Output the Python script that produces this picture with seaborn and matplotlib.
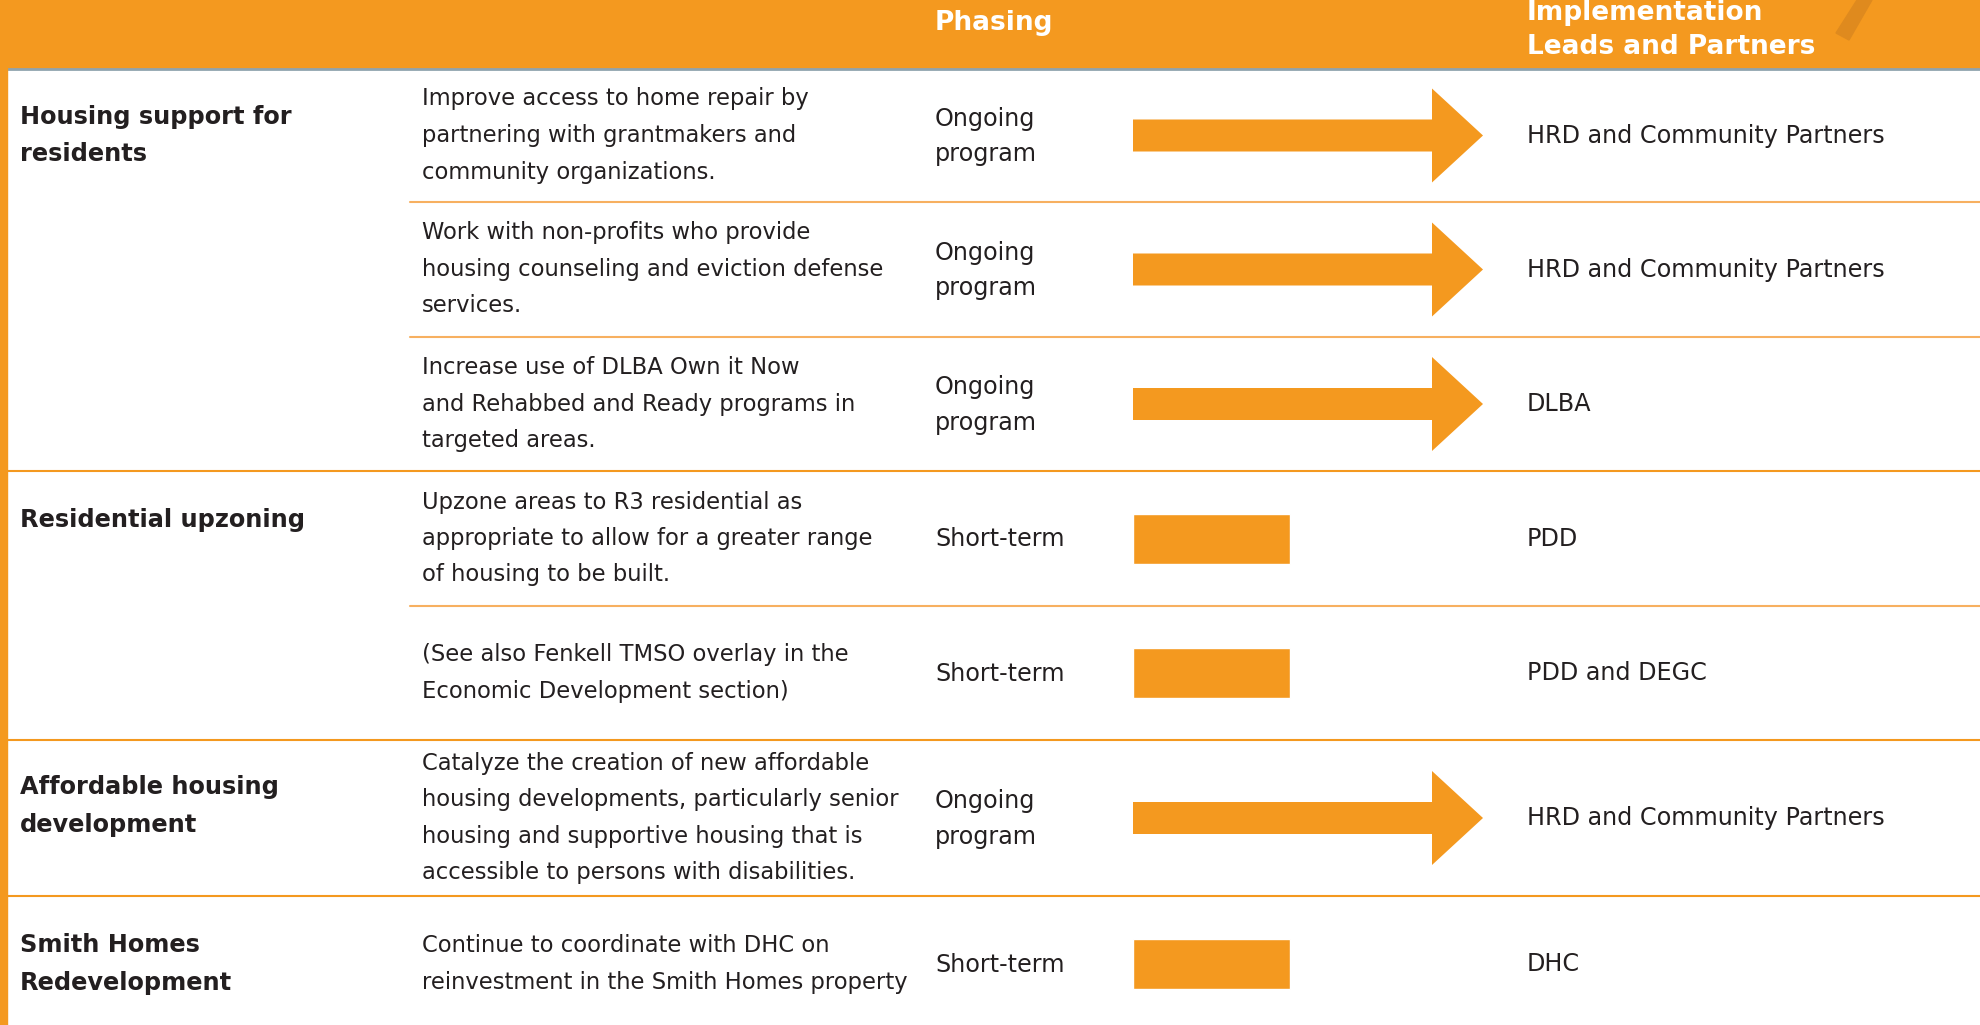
import seaborn as sns
import matplotlib.pyplot as plt
from matplotlib.patches import Polygon

sns.set_theme(style="white")
plt.rcParams['font.family'] = ['DejaVu Sans']

ORANGE = '#F4991F'
TEXT = '#231F20'

# table content
topics = ['Housing support for\nresidents', 'Residential upzoning',
          'Affordable housing\ndevelopment', 'Smith Homes\nRedevelopment']
topic_rows = [[0, 1, 2], [3, 4], [5], [6]]
actions = [
    'Improve access to home repair by\npartnering with grantmakers and\ncommunity organizations.',
    'Work with non-profits who provide\nhousing counseling and eviction defense\nservices.',
    'Increase use of DLBA Own it Now\nand Rehabbed and Ready programs in\ntargeted areas.',
    'Upzone areas to R3 residential as\nappropriate to allow for a greater range\nof housing to be built.',
    '(See also Fenkell TMSO overlay in the\nEconomic Development section)',
    'Catalyze the creation of new affordable\nhousing developments, particularly senior\nhousing and supportive housing that is\naccessible to persons with disabilities.',
    'Continue to coordinate with DHC on\nreinvestment in the Smith Homes property',
]
phasing = ['Ongoing program', 'Ongoing program', 'Ongoing program',
           'Short-term', 'Short-term', 'Ongoing program', 'Short-term']
leads = ['HRD and Community Partners', 'HRD and Community Partners', 'DLBA',
         'PDD', 'PDD and DEGC', 'HRD and Community Partners', 'DHC']
# length of the phasing mark, short-term = 1
phase_span = {'Short-term': 1.0, 'Ongoing program': 2.23}
phase_label = {'Short-term': 'Short-term', 'Ongoing program': 'Ongoing\nprogram'}

# layout (pixels)
W, H = 1981, 1025
HEAD = 69
row_edges = [69, 202, 337, 471, 606, 740, 896, 1032]
centers = [(a + b) / 2 for a, b in zip(row_edges[:-1], row_edges[1:])]
topic_dy = [0, -18, -12, 0]
X_TOPIC, X_ACT, X_PHASE, X_LEAD = 20, 422, 935, 1527
TL_X0, TL_X1 = 1133, 1483

fig = plt.figure(figsize=(W / 100, H / 100), dpi=100)
ax = fig.add_axes([0, 0, 1, 1])
ax.set_xlim(0, W)
ax.set_ylim(H, 0)
ax.axis('off')

# header band
ax.axhspan(0, HEAD - 1, color=ORANGE, zorder=0)
ax.axhline(HEAD - 0.5, color='#8FA3AE', lw=2, zorder=1)
ax.add_patch(Polygon([[1836, 33], [1849, 40], [1872, 0], [1857, 0]],
                     closed=True, color='#DF8A1E', zorder=1))
ax.axvspan(0, 7, ymin=0, ymax=1, color=ORANGE, zorder=1)

hdr = dict(color='white', fontsize=19, fontweight='bold', va='center', ha='left')
ax.text(X_PHASE, 23, 'Phasing', **hdr)
ax.text(X_LEAD, 13, 'Implementation', **hdr)
ax.text(X_LEAD, 47, 'Leads and Partners', **hdr)

# separators
for g, rows in enumerate(topic_rows):
    for r in rows[1:]:
        ax.plot([410, W], [row_edges[r], row_edges[r]], color='#F7B060', lw=1.5)
    last = rows[-1] + 1
    if last < len(row_edges) - 1:
        ax.plot([7, W], [row_edges[last], row_edges[last]], color=ORANGE, lw=1.5)

desc = dict(color=TEXT, fontsize=16.3, va='center', ha='left', linespacing=1.75)
side = dict(color=TEXT, fontsize=17.2, va='center', ha='left', linespacing=1.63)
for g, t in enumerate(topics):
    ax.text(X_TOPIC, centers[topic_rows[g][0]] + topic_dy[g], t, color=TEXT,
            fontsize=17.3, fontweight='bold', va='center', ha='left', linespacing=1.72)
for i in range(len(actions)):
    ax.text(X_ACT, centers[i], actions[i], **desc)
    ax.text(X_PHASE, centers[i] + 1, phase_label[phasing[i]], **side)
    ax.text(X_LEAD, centers[i], leads[i], **side)

# timeline column
tl = fig.add_axes([TL_X0 / W, 0, (TL_X1 - TL_X0) / W, 1])
short_y = [centers[i] for i in range(len(phasing)) if phasing[i] == 'Short-term']
short_x = [phase_span[phasing[i]] for i in range(len(phasing)) if phasing[i] == 'Short-term']
gap = min(b - a for a, b in zip(short_y[:-1], short_y[1:]))
sns.barplot(x=short_x, y=short_y, orient='h', native_scale=True, color=ORANGE,
            saturation=1, width=50 / gap, errorbar=None, ax=tl)
unit = (TL_X1 - TL_X0) / phase_span['Ongoing program']
for i in range(len(phasing)):
    if phasing[i] == 'Ongoing program':
        tl.arrow(0, centers[i], phase_span[phasing[i]], 0, width=32, head_width=94,
                 head_length=51 / unit, length_includes_head=True, color=ORANGE,
                 lw=0, clip_on=False)
tl.set_xlim(0, phase_span['Ongoing program'])
tl.set_ylim(H, 0)
tl.axis('off')

fig.savefig('out.png', dpi=100)
